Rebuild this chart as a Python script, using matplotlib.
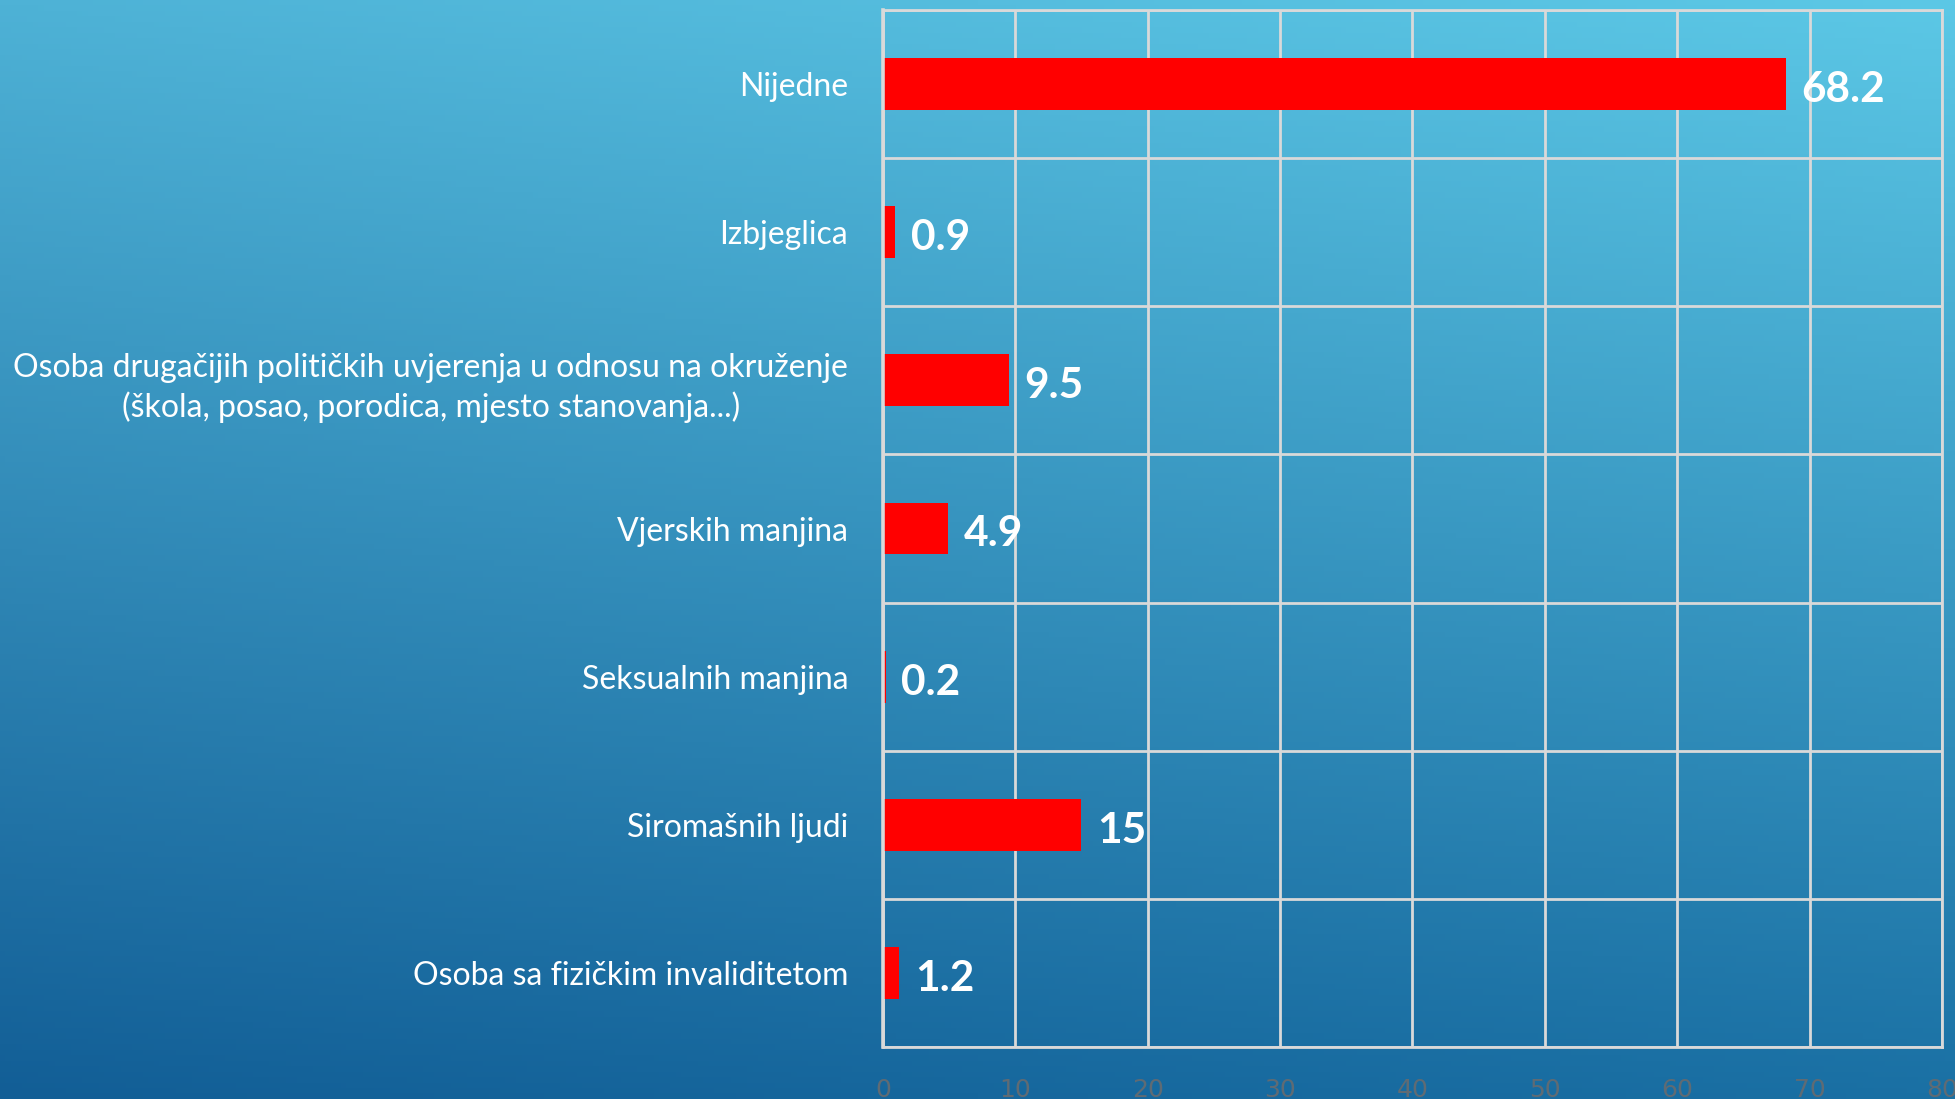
import numpy as np
import matplotlib
matplotlib.use("Agg")
from matplotlib import pyplot as plt

categories = [
    "Nijedne",
    "Izbjeglica",
    "Osoba drugačijih političkih uvjerenja u odnosu na okruženje\n(škola, posao, porodica, mjesto stanovanja...)",
    "Vjerskih manjina",
    "Seksualnih manjina",
    "Siromašnih ljudi",
    "Osoba sa fizičkim invaliditetom",
]
values = [68.2, 0.9, 9.5, 4.9, 0.2, 15, 1.2]
value_labels = ["68.2", "0.9", "9.5", "4.9", "0.2", "15", "1.2"]
xticks = [0, 10, 20, 30, 40, 50, 60, 70, 80]

fig = plt.figure(figsize=(19.56, 10.99), dpi=100)

# background gradient (corner colours, bilinear)
tl = np.array([78, 178, 214]) / 255
tr = np.array([92, 200, 230]) / 255
bl = np.array([18, 94, 150]) / 255
br = np.array([26, 112, 164]) / 255
h, w = 200, 356
yy, xx = np.mgrid[0:1:h * 1j, 0:1:w * 1j]
grad = ((1 - yy)[..., None] * ((1 - xx)[..., None] * tl + xx[..., None] * tr)
        + yy[..., None] * ((1 - xx)[..., None] * bl + xx[..., None] * br))
bg = fig.add_axes([0, 0, 1, 1], zorder=0)
bg.imshow(grad, aspect="auto", extent=[0, 1, 0, 1])
bg.axis("off")

ax = fig.add_axes([0.4514, 0.0473, 0.5414, 0.9436], zorder=1)
ax.patch.set_alpha(0)

y = np.arange(len(categories))
ax.barh(y, values, height=0.35, color="#ff0000", zorder=3)
ax.set_ylim(len(categories) - 0.5, -0.5)
ax.set_xlim(0, 80)

ax.set_yticks(y)
ax.set_yticklabels(categories, fontsize=23, color="white", family="Lato",
                   multialignment="center", linespacing=1.35)
ax.set_yticks(np.arange(-0.5, len(categories), 1), minor=True)
ax.tick_params(axis="y", which="both", length=0, pad=25)

ax.set_xticks(xticks)
ax.set_xticklabels([str(t) for t in xticks], fontsize=18, color="#5f6b74",
                   family="Liberation Sans Narrow")
ax.tick_params(axis="x", length=0, pad=22)

ax.grid(True, axis="x", which="major", color="#d9d9d9", linewidth=2, zorder=1)
ax.grid(True, axis="y", which="minor", color="#d9d9d9", linewidth=2, zorder=1)
for s in ax.spines.values():
    s.set_color("#d9d9d9")
    s.set_linewidth(2)
    s.set_zorder(5)
ax.spines["left"].set_linewidth(2.6)

for yi, v, lab in zip(y, values, value_labels):
    ax.text(v + 1.2, yi + 0.04, lab, va="center", ha="left", fontsize=30.5,
            fontweight="bold", color="white", family="Lato", zorder=4)

fig.savefig("out.png", dpi=100)
